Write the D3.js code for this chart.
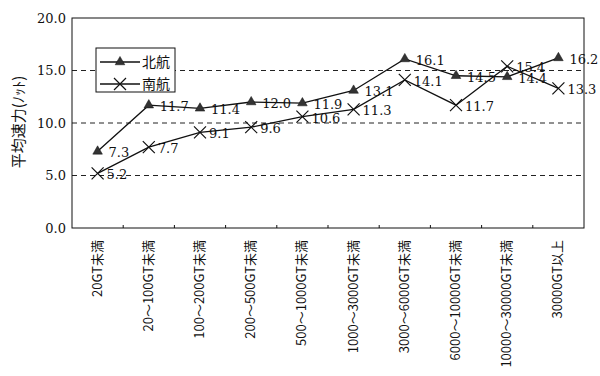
<!DOCTYPE html>
<html><head><meta charset="utf-8">
<script src="https://cdn.jsdelivr.net/npm/d3@7"></script>
<style>body{margin:0;background:#fff}svg{display:block}</style>
</head><body>
<svg id="c" width="600" height="376"></svg>
<script>
const categories = ["20GT未満","20～100GT未満","100～200GT未満","200～500GT未満","500～1000GT未満","1000～3000GT未満","3000～6000GT未満","6000～10000GT未満","10000～30000GT未満","30000GT以上"];
const north = [7.3,11.7,11.4,12.0,11.9,13.1,16.1,14.5,14.4,16.2];
const south = [5.2,7.7,9.1,9.6,10.6,11.3,14.1,11.7,15.4,13.3];
const yTicks = [0,5,10,15,20];
const seriesNames = ["北航","南航"];

const svg = d3.select("#c");
const L=72,R=584,T=18,B=228;
const x = d3.scaleBand().domain(categories).range([L,R]);
const y = d3.scaleLinear().domain([0,20]).range([B,T]);
const cx = d => x(d)+x.bandwidth()/2;
const serif = "'DejaVu Serif', serif";
const sans = "'Noto Sans CJK JP', sans-serif";

// gridlines
svg.append("g").selectAll("line").data(yTicks.filter(t=>t>0&&t<20)).join("line")
  .attr("x1",L).attr("x2",R).attr("y1",d=>y(d)).attr("y2",d=>y(d))
  .attr("stroke","#222").attr("stroke-width",1).attr("stroke-dasharray","5,4");
// frame
svg.append("rect").attr("x",L).attr("y",T).attr("width",R-L).attr("height",B-T)
  .attr("fill","none").attr("stroke","#111").attr("stroke-width",1);
// x ticks at band boundaries
svg.append("g").selectAll("line").data(categories.slice(1)).join("line")
  .attr("x1",d=>x(d)).attr("x2",d=>x(d)).attr("y1",B).attr("y2",B-3)
  .attr("stroke","#111");

// y axis labels
const yAxis = d3.axisLeft(y).tickValues(yTicks).tickFormat(d3.format(".1f")).tickSize(0).tickPadding(6);
const ga = svg.append("g").attr("transform",`translate(${L},0)`).call(yAxis);
ga.select(".domain").remove();
ga.selectAll("text").attr("font-family",serif).attr("font-size",13).attr("fill","#111");

// x labels
svg.append("g").selectAll("text").data(categories).join("text")
  .attr("transform",d=>`translate(${cx(d)+4},${B+12}) rotate(-90)`)
  .attr("text-anchor","end").attr("font-family",sans).attr("font-size",13).attr("fill","#111")
  .text(d=>d);

// y title
svg.append("text").attr("transform",`translate(24,${(T+B)/2-1}) rotate(-90)`)
  .attr("text-anchor","middle").attr("font-family",sans).attr("font-size",15).attr("fill","#111")
  .text("平均速力(ﾉｯﾄ)");

const line = d3.line().x((d,i)=>cx(categories[i])).y(d=>y(d));
const tri = d3.symbol().type(d3.symbolTriangle).size(40);
function drawX(g,px,py,s){
  g.append("path").attr("d",`M${px-s},${py-s}L${px+s},${py+s}M${px-s},${py+s}L${px+s},${py-s}`)
   .attr("stroke","#111").attr("stroke-width",1.2).attr("fill","none");
}

[north,south].forEach((vals,k)=>{
  svg.append("path").datum(vals).attr("d",line).attr("fill","none").attr("stroke","#111").attr("stroke-width",1.3);
});
// markers
const gm = svg.append("g");
north.forEach((v,i)=>{
  gm.append("path").attr("d",tri).attr("transform",`translate(${cx(categories[i])},${y(v)})`).attr("fill","#333").attr("stroke","#111").attr("stroke-width",0.5);
});
south.forEach((v,i)=>drawX(gm,cx(categories[i]),y(v),6));
// data labels
const gl = svg.append("g").attr("font-family",serif).attr("font-size",13).attr("fill","#111");
north.forEach((v,i)=>gl.append("text").attr("x",cx(categories[i])+11).attr("y",y(v)+6).text(d3.format(".1f")(v)));
south.forEach((v,i)=>gl.append("text").attr("x",cx(categories[i])+9).attr("y",y(v)+6).text(d3.format(".1f")(v)));

// legend
const lg = svg.append("g");
lg.append("rect").attr("x",96).attr("y",48).attr("width",79).attr("height",44).attr("fill","#fff").attr("stroke","#111");
[0,1].forEach(k=>{
  const ly = 62 + k*22;
  lg.append("line").attr("x1",100).attr("x2",140).attr("y1",ly).attr("y2",ly).attr("stroke","#111").attr("stroke-width",1.3);
  if(k===0) lg.append("path").attr("d",tri).attr("transform",`translate(120,${ly})`).attr("fill","#333").attr("stroke","#111").attr("stroke-width",0.5);
  else drawX(lg,120,ly,6);
  lg.append("text").attr("x",142).attr("y",ly+5).attr("font-family",sans).attr("font-size",14).attr("fill","#111").text(seriesNames[k]);
});
</script>
</body></html>
